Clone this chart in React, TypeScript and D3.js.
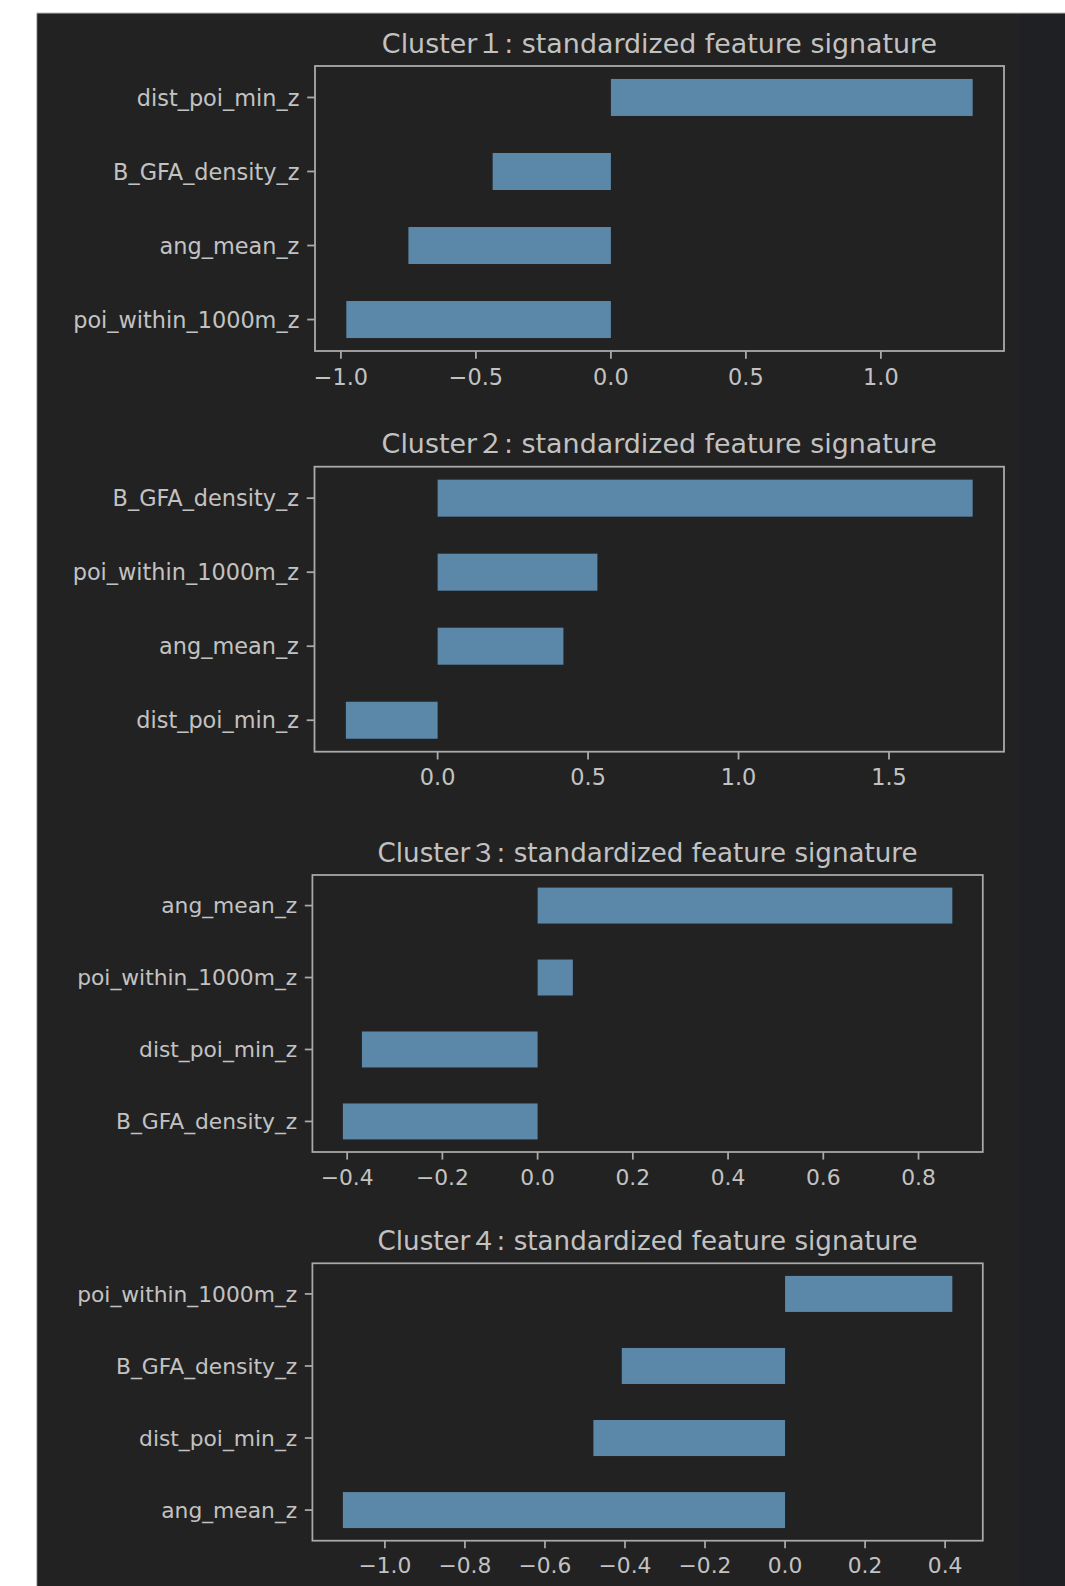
import React from "react";
import * as d3 from "d3";

// ---- data (listed top-to-bottom as displayed) ----
const TITLES = [
  "Cluster１: standardized feature signature",
  "Cluster２: standardized feature signature",
  "Cluster３: standardized feature signature",
  "Cluster４: standardized feature signature",
];

const FEATURES1 = ["dist_poi_min_z", "B_GFA_density_z", "ang_mean_z", "poi_within_1000m_z"];
const VALUES1 = [1.34, -0.438, -0.75, -0.98];
const TICKS1 = [-1.0, -0.5, 0.0, 0.5, 1.0];

const FEATURES2 = ["B_GFA_density_z", "poi_within_1000m_z", "ang_mean_z", "dist_poi_min_z"];
const VALUES2 = [1.778, 0.531, 0.418, -0.305];
const TICKS2 = [0.0, 0.5, 1.0, 1.5];

const FEATURES3 = ["ang_mean_z", "poi_within_1000m_z", "dist_poi_min_z", "B_GFA_density_z"];
const VALUES3 = [0.871, 0.074, -0.369, -0.409];
const TICKS3 = [-0.4, -0.2, 0.0, 0.2, 0.4, 0.6, 0.8];

const FEATURES4 = ["poi_within_1000m_z", "B_GFA_density_z", "dist_poi_min_z", "ang_mean_z"];
const VALUES4 = [0.418, -0.408, -0.479, -1.105];
const TICKS4 = [-1.0, -0.8, -0.6, -0.4, -0.2, 0.0, 0.2, 0.4];

// ---- layout ----
const LAYOUT = [
  { left: 315, right: 1004, top: 66, bottom: 351, s: 1 },
  { left: 314.5, right: 1004, top: 466.7, bottom: 751.7, s: 1 },
  { left: 312.4, right: 982.8, top: 875, bottom: 1152, s: 0.973 },
  { left: 312.4, right: 982.8, top: 1263.3, bottom: 1540.7, s: 0.973 },
];

const BG = "#222222";
const TEXT = "#c2c2c2";
const SPINE = "#aaaaaa";
const BAR = "#5b87a8";
const FONT = "'DejaVu Sans', 'Noto Sans CJK SC', sans-serif";
const fmt = d3.format(".1f");

function Panel({ title, features, values, ticks, L }) {
  const n = features.length;
  const lo = Math.min(0, d3.min(values));
  const hi = Math.max(0, d3.max(values));
  const span = hi - lo;
  const x = d3.scaleLinear().domain([lo - 0.05 * span, hi + 0.05 * span]).range([L.left, L.right]);
  const y = d3.scaleLinear().domain([-0.425, n - 1 + 0.425]).range([L.bottom, L.top]);
  const s = L.s;
  const lab = 22.4 * s;
  const tick = 7.8 * s;
  const lw = 1.8 * s;
  return (
    <g>
      <text
        x={(L.left + L.right) / 2}
        y={L.top - 13.4 * s}
        fontSize={26.9 * s}
        fill={TEXT}
        textAnchor="middle"
        fontFamily={FONT}
      >
        {title}
      </text>
      {values.map((v, i) => {
        const idx = n - 1 - i;
        const x0 = x(Math.min(0, v));
        const x1 = x(Math.max(0, v));
        const yt = y(idx + 0.25);
        const yb = y(idx - 0.25);
        return <rect key={"b" + i} x={x0} y={yt} width={x1 - x0} height={yb - yt} fill={BAR} />;
      })}
      <rect
        x={L.left}
        y={L.top}
        width={L.right - L.left}
        height={L.bottom - L.top}
        fill="none"
        stroke={SPINE}
        strokeWidth={lw}
      />
      {features.map((f, i) => {
        const idx = n - 1 - i;
        const yy = y(idx);
        return (
          <g key={"y" + i}>
            <line x1={L.left - tick} x2={L.left} y1={yy} y2={yy} stroke={SPINE} strokeWidth={lw} />
            <text
              x={L.left - 2 * tick}
              y={yy}
              dy="0.36em"
              fontSize={lab}
              fill={TEXT}
              textAnchor="end"
              fontFamily={FONT}
            >
              {f}
            </text>
          </g>
        );
      })}
      {ticks.map((t, i) => {
        const xx = x(t);
        return (
          <g key={"x" + i}>
            <line x1={xx} x2={xx} y1={L.bottom} y2={L.bottom + tick} stroke={SPINE} strokeWidth={lw} />
            <text
              x={xx}
              y={L.bottom + 33.5 * s}
              fontSize={lab}
              fill={TEXT}
              textAnchor="middle"
              fontFamily={FONT}
            >
              {fmt(t)}
            </text>
          </g>
        );
      })}
    </g>
  );
}

export default function App() {
  const panels = [
    { features: FEATURES1, values: VALUES1, ticks: TICKS1 },
    { features: FEATURES2, values: VALUES2, ticks: TICKS2 },
    { features: FEATURES3, values: VALUES3, ticks: TICKS3 },
    { features: FEATURES4, values: VALUES4, ticks: TICKS4 },
  ];
  return (
    <div style={{ position: "absolute", left: 0, top: 0 }}>
      <svg width={1065} height={1586} style={{ display: "block" }}>
        <rect x={0} y={0} width={1065} height={1586} fill="#ffffff" />
        <rect x={36.7} y={13} width={1065 - 36.7} height={1586 - 13} fill={BG} />
        <rect x={1020} y={13} width={45} height={1586 - 13} fill="#1f2023" />
        <line x1={36.7} x2={1065} y1={13} y2={13} stroke="#bbbbbb" strokeWidth={1} />
        <line x1={36.7} x2={36.7} y1={13} y2={1586} stroke="#cccccc" strokeWidth={1} />
        {panels.map((p, i) => (
          <Panel key={i} title={TITLES[i]} features={p.features} values={p.values} ticks={p.ticks} L={LAYOUT[i]} />
        ))}
      </svg>
    </div>
  );
}
